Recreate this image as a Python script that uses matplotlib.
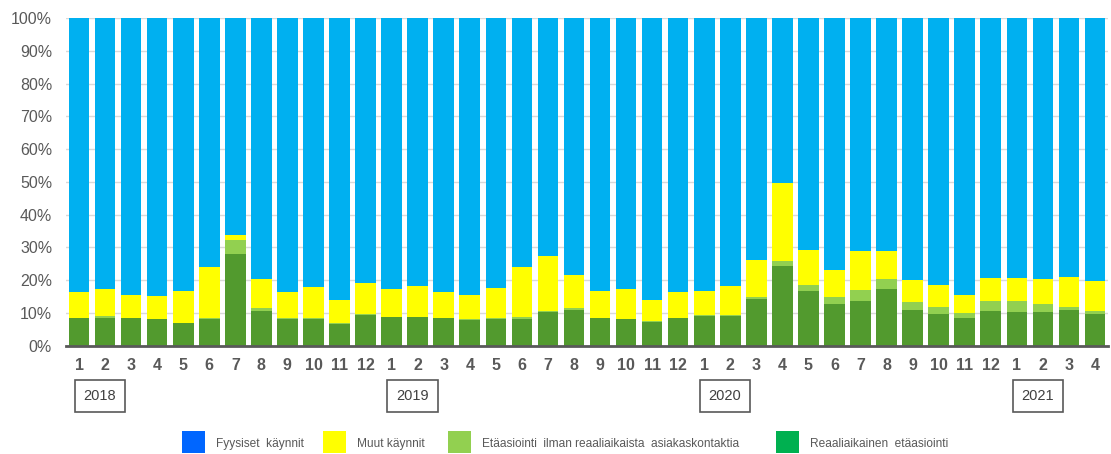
import numpy as np
import matplotlib
matplotlib.use('Agg')
import matplotlib.pyplot as plt
from matplotlib.patches import Rectangle

# month labels and year markers
months = [1, 2, 3, 4, 5, 6, 7, 8, 9, 10, 11, 12] * 3 + [1, 2, 3, 4]
years = ['2018', '2019', '2020', '2021']
year_start = [0, 12, 24, 36]

# shares in % (bottom -> top), Fyysiset kaynnit fills up to 100 %
reaaliaikainen = [8.4, 8.6, 8.4, 8.1, 6.8, 8.0, 27.9, 10.7, 8.0, 8.0, 6.5, 9.4,
                  8.7, 8.7, 8.4, 7.8, 8.0, 8.0, 10.4, 10.9, 8.4, 8.1, 7.2, 8.4,
                  9.1, 9.1, 14.4, 24.4, 16.7, 12.7, 13.5, 17.4, 10.9, 9.7, 8.5, 10.6,
                  10.3, 10.3, 10.9, 9.7]
etaasiointi = [0.2, 0.5, 0.2, 0.2, 0.2, 0.6, 4.5, 0.8, 0.6, 0.6, 0.3, 0.2,
               0.2, 0.2, 0.2, 0.2, 0.5, 0.9, 0.2, 0.6, 0.2, 0.2, 0.2, 0.2,
               0.2, 0.2, 0.4, 1.5, 1.9, 2.1, 3.5, 3.0, 2.3, 2.1, 1.5, 3.0,
               3.3, 2.3, 1.0, 0.9]
muut = [7.8, 8.3, 6.9, 6.9, 9.7, 15.5, 1.5, 8.8, 7.8, 9.2, 7.2, 9.4,
        8.3, 9.2, 7.8, 7.5, 9.2, 15.2, 16.9, 10.0, 8.2, 8.9, 6.6, 7.8,
        7.5, 8.8, 11.2, 23.8, 10.5, 8.3, 11.8, 8.4, 6.7, 6.8, 5.4, 7.2,
        7.2, 7.9, 9.2, 9.0]

reaaliaikainen = np.array(reaaliaikainen)
etaasiointi = np.array(etaasiointi)
muut = np.array(muut)
fyysiset = 100 - reaaliaikainen - etaasiointi - muut

legend_labels = ['Fyysiset  käynnit', 'Muut käynnit',
                 'Etäasiointi  ilman reaaliaikaista  asiakaskontaktia',
                 'Reaaliaikainen  etäasiointi']
legend_colors = ['#0066FF', '#FFFF00', '#92D050', '#00B050']

grey = '#595959'
plt.rcParams['font.family'] = ['Liberation Sans', 'DejaVu Sans']

fig = plt.figure(figsize=(11.11, 4.54), dpi=100)
ax = fig.add_axes([66 / 1111, 108.3 / 454, 1042 / 1111, 327.7 / 454])

x = np.arange(len(months))
w = 0.79
ax.bar(x, reaaliaikainen, w, color='#529A2E', zorder=2)
ax.bar(x, etaasiointi, w, bottom=reaaliaikainen, color='#92D050', zorder=2)
ax.bar(x, muut, w, bottom=reaaliaikainen + etaasiointi, color='#FFFF00', zorder=2)
ax.bar(x, fyysiset, w, bottom=reaaliaikainen + etaasiointi + muut, color='#00B0F0', zorder=2)

ax.set_xlim(-0.5, len(months) - 0.5)
ax.set_ylim(0, 100)
ax.set_yticks(np.arange(0, 101, 10))
ax.set_yticklabels([f'{v}%' for v in range(0, 101, 10)])
ax.set_xticks(x)
ax.set_xticklabels(months, fontweight='bold')
ax.tick_params(axis='y', length=0, pad=10, labelsize=11.5, labelcolor=grey)
ax.tick_params(axis='x', length=0, pad=9, labelsize=11.5, labelcolor=grey)
ax.grid(axis='y', color='#D9D9D9', linewidth=1, zorder=0)
for s in ['top', 'right', 'left']:
    ax.spines[s].set_visible(False)
ax.spines['bottom'].set_color(grey)
ax.spines['bottom'].set_linewidth(2)
ax.spines['bottom'].set_zorder(3)

# year boxes under the month labels
trans = ax.get_xaxis_transform()
for yr, i in zip(years, year_start):
    ax.text(i + 0.8, -0.153, yr, transform=trans, ha='center', va='center',
            fontsize=10.5, color='#404040',
            bbox=dict(boxstyle='square,pad=0.6', fc='white', ec=grey, lw=1.2))

# legend drawn by hand to match the spacing
sq_x = [182, 323, 448, 776]
txt_x = [216, 357, 482, 810]
for c, lab, sx, tx in zip(legend_colors, legend_labels, sq_x, txt_x):
    fig.add_artist(Rectangle((sx / 1111, (454 - 453) / 454), 23 / 1111, 22 / 454,
                             transform=fig.transFigure, color=c, lw=0))
    fig.text(tx / 1111, (454 - 444) / 454, lab, fontsize=8.6, color=grey,
             ha='left', va='center')

fig.savefig('out.png', dpi=100)
